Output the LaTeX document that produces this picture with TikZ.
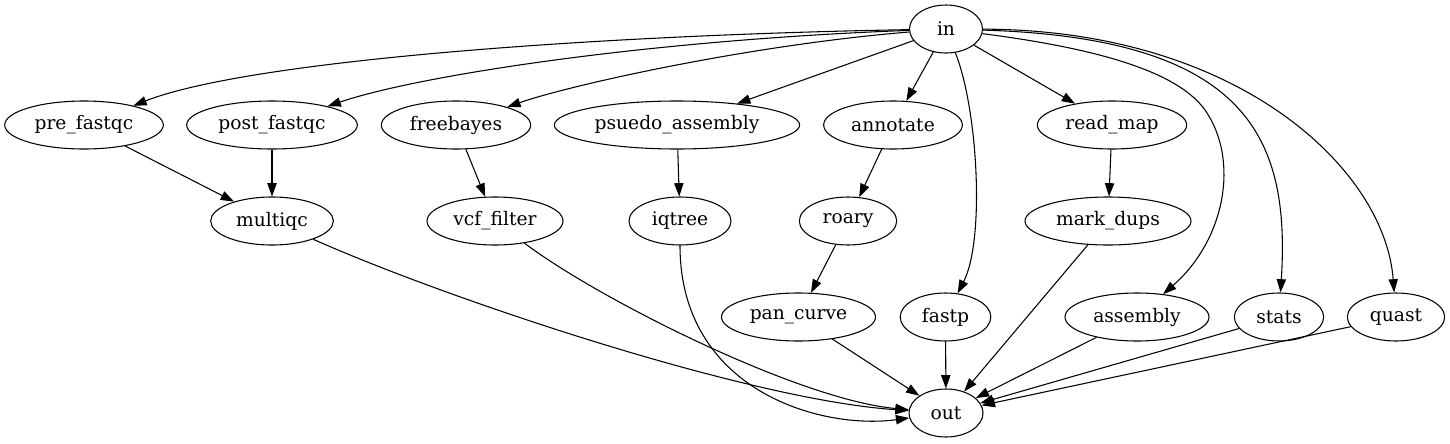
\documentclass[tikz,border=0pt]{standalone}
\usepackage{fontspec}
\setmainfont{DejaVu Serif}
\usetikzlibrary{shapes.geometric,arrows.meta}
\begin{document}
\begin{tikzpicture}[x=0.75pt,y=-0.75pt,
  nd/.style={ellipse,draw,line width=0.8pt,inner sep=0pt,minimum height=36pt,font=\fontsize{14pt}{16pt}\selectfont},
  arr/.style={line width=0.8pt,-{Triangle[length=10pt,width=7pt]}}]
\useasboundingbox (0,0) rectangle (1450,443);
\node[nd,minimum width=54.75pt] (in) at (946,29) {in};
\node[nd,minimum width=119pt] (pre) at (84,125) {pre\_fastqc};
\node[nd,minimum width=128pt] (post) at (272,125) {post\_fastqc};
\node[nd,minimum width=112pt] (free) at (456,125) {freebayes};
\node[nd,minimum width=184pt] (psu) at (677,125) {psuedo\_assembly};
\node[nd,minimum width=104pt] (ann) at (893,125) {annotate};
\node[nd,minimum width=112pt] (rmap) at (1112,125) {read\_map};
\node[nd,minimum width=92pt] (mqc) at (272,221) {multiqc};
\node[nd,minimum width=102pt] (vcf) at (495,221) {vcf\_filter};
\node[nd,minimum width=76.5pt] (iq) at (680,221) {iqtree};
\node[nd,minimum width=73pt] (roary) at (848,221) {roary};
\node[nd,minimum width=124.5pt] (mdup) at (1108,221) {mark\_dups};
\node[nd,minimum width=115.5pt] (pan) at (798.5,317) {pan\_curve};
\node[nd,minimum width=68pt] (fastp) at (945.5,317) {fastp};
\node[nd,minimum width=108pt] (asm) at (1137,317) {assembly};
\node[nd,minimum width=67pt] (stats) at (1279,317) {stats};
\node[nd,minimum width=73pt] (quast) at (1396,317) {quast};
\node[nd,minimum width=55.5pt] (out) at (946,413) {out};
% from in
\draw[arr] (in) .. controls (600,35) and (250,60) .. (pre);
\draw[arr] (in) .. controls (650,40) and (420,75) .. (post);
\draw[arr] (in) .. controls (750,45) and (570,85) .. (free);
\draw[arr] (in) -- (psu);
\draw[arr] (in) -- (ann);
\draw[arr] (in) -- (rmap);
\draw[arr] (in) .. controls (978,110) and (985,240) .. (fastp);
\draw[arr] (in) .. controls (1110,50) and (1180,75) .. (1205,110) .. controls (1240,160) and (1225,240) .. (asm);
\draw[arr] (in) .. controls (1250,38) and (1290,140) .. (stats);
\draw[arr] (in) .. controls (1240,30) and (1385,170) .. (quast);
% middle
\draw[arr] (pre) -- (mqc);
\draw[arr] (post) -- (mqc);
\draw[arr] (free) -- (vcf);
\draw[arr] (psu) -- (iq);
\draw[arr] (ann) -- (roary);
\draw[arr] (rmap) -- (mdup);
\draw[arr] (roary) -- (pan);
% to out
\draw[arr] (mqc) .. controls (450,300) and (750,400) .. (out);
\draw[arr] (vcf) .. controls (600,300) and (800,400) .. (out);
\draw[arr] (iq) .. controls (680,390) and (820,430) .. (out);
\draw[arr] (pan) -- (out);
\draw[arr] (fastp) -- (out);
\draw[arr] (mdup) -- (out);
\draw[arr] (asm) -- (out);
\draw[arr] (stats) -- (out);
\draw[arr] (quast) -- (out);
\end{tikzpicture}
\end{document}
